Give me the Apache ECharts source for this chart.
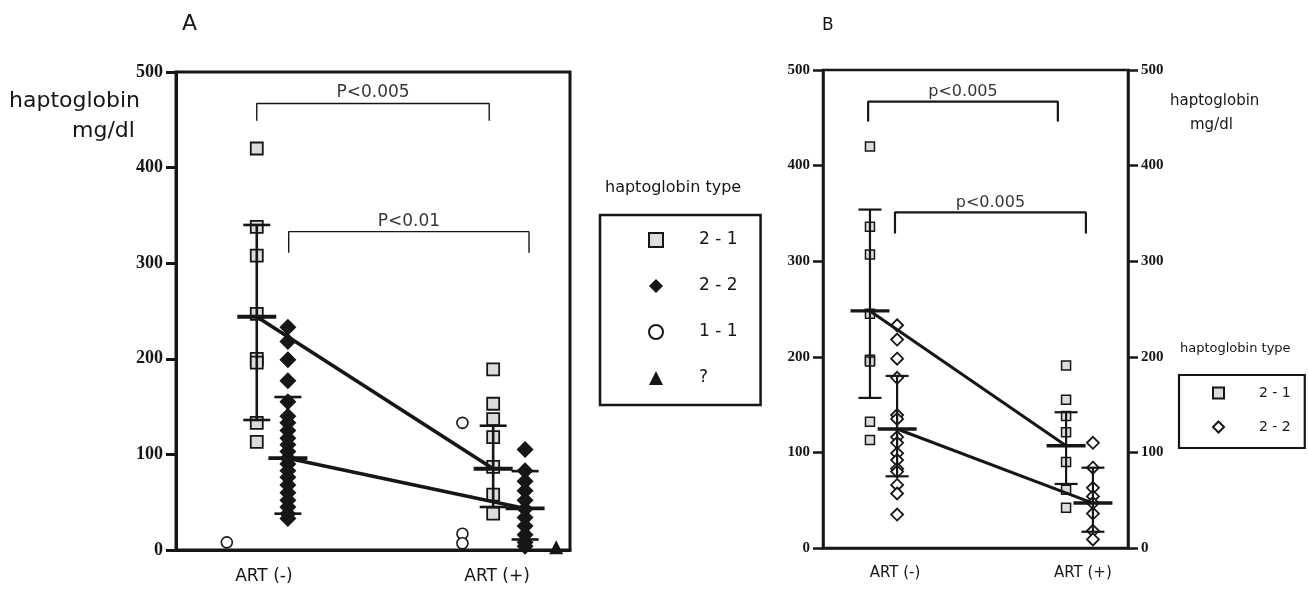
<!DOCTYPE html>
<html>
<head>
<meta charset="utf-8">
<script src="https://cdn.jsdelivr.net/npm/echarts@6/dist/echarts.min.js"></script>
<style>
  html, body { margin: 0; padding: 0; background: #fff; }
  #chart { width: 1308px; height: 594px; }
</style>
</head>
<body>
<div id="chart"></div>
<script>
// x positions (0-100 scale inside each panel)
const xCatA = [22.3, 81.5];
const xCatB = [23.6, 85.2];
const xLabels = ['ART (-)', 'ART (+)'];

// panel A values (mg/dl)
const a21Neg = [420, 338, 308, 247, 200, 196, 133, 113];
const a21Pos = [189, 153, 137, 118, 87, 58, 38];
const a22Neg = [233, 218, 199, 177, 155, 140, 133, 125, 117, 110, 103, 96, 90, 83, 76, 68, 60, 52, 45, 38, 33];
const a22Pos = [105, 83, 72, 62, 52, 43, 34, 25, 16, 8, 4];
const a11Neg = [8];
const a11Pos = [133, 17, 7];
const aUnknown = [3];
const aX = { sqNeg: 20.5, diaNeg: 28.4, cirNeg: 12.9, sqPos: 80.5, diaPos: 88.6, cirPos: 72.7, tri: 96.5 };
// [x, mean, low, high]
const aSummary = [[20.5, 244, 136, 340], [28.4, 96, 38, 160], [80.5, 85, 45, 130], [88.6, 43.5, 11, 82.5]];
const aMeanLines = [[[20.5, 244], [80.5, 85]], [[28.4, 96], [88.6, 43.5]]];
// [x1, x2, yTop, yLeg, text]
const aBrackets = [[20.5, 79.5, 467, 449, 'P<0.005'], [28.6, 89.6, 333, 311, 'P<0.01']];

// panel B values (mg/dl)
const b21Neg = [420, 336, 307, 245, 197, 195, 132, 113];
const b21Pos = [191, 155, 138, 121, 90, 61, 42];
const b22Neg = [233, 218, 198, 178, 139, 135, 116, 110, 99, 92, 83, 80, 66, 57, 35];
const b22Pos = [110, 84, 63, 54, 47, 36, 18, 9];
const bX = { sqNeg: 15.4, diaNeg: 24.3, sqPos: 79.7, diaPos: 88.5 };
const bSummary = [[15.4, 248, 157, 354], [24.3, 124.5, 75, 180], [79.7, 107, 67, 142], [88.5, 47, 17, 84]];
const bMeanLines = [[[15.4, 248], [79.7, 107]], [[24.3, 124.5], [88.5, 47]]];
const bBrackets = [[14.8, 77, 467, 446, 'p<0.005'], [23.6, 86.2, 351, 329, 'p<0.005']];

const ink = '#161616';
const grayFill = '#dcdcdc';
const sans = '"DejaVu Sans", "Open Sans", sans-serif';
const serif = '"Liberation Serif", "DejaVu Serif", serif';

function pts(x, arr) { return arr.map((v) => [x, v]); }

function errorSeries(data, xi, yi, capHalf, meanHalf, lw) {
  return {
    type: 'custom', xAxisIndex: xi, yAxisIndex: yi, z: 5, silent: true,
    data: data,
    renderItem(params, api) {
      const x = api.value(0);
      const m = api.coord([x, api.value(1)]);
      const lo = api.coord([x, api.value(2)]);
      const hi = api.coord([x, api.value(3)]);
      const st = { stroke: ink, lineWidth: lw };
      return {
        type: 'group',
        children: [
          { type: 'line', shape: { x1: lo[0], y1: lo[1], x2: hi[0], y2: hi[1] }, style: st },
          { type: 'line', shape: { x1: lo[0] - capHalf, y1: lo[1], x2: lo[0] + capHalf, y2: lo[1] }, style: st },
          { type: 'line', shape: { x1: hi[0] - capHalf, y1: hi[1], x2: hi[0] + capHalf, y2: hi[1] }, style: st },
          { type: 'line', shape: { x1: m[0] - meanHalf, y1: m[1], x2: m[0] + meanHalf, y2: m[1] }, style: { stroke: ink, lineWidth: lw + 1.2 } },
        ],
      };
    },
  };
}

function bracketSeries(list, xi, yi, lw, fontSize) {
  const out = [];
  list.forEach((b) => {
    out.push({
      type: 'line', xAxisIndex: xi, yAxisIndex: yi, silent: true, symbol: 'none',
      lineStyle: { color: ink, width: lw },
      data: [[b[0], b[3]], [b[0], b[2]], [b[1], b[2]], [b[1], b[3]]],
    });
    out.push({
      type: 'scatter', xAxisIndex: xi, yAxisIndex: yi, silent: true, symbolSize: 0,
      itemStyle: { color: '#000' },
      data: [[(b[0] + b[1]) / 2, b[2]]],
      label: {
        show: true, position: 'top', distance: 2, formatter: b[4],
        color: '#000', fontFamily: sans, fontSize: fontSize,
      },
    });
  });
  return out;
}

function meanLineSeries(lines, xi, yi, lw) {
  return lines.map((l) => ({
    type: 'line', xAxisIndex: xi, yAxisIndex: yi, silent: true, symbol: 'none', z: 4,
    lineStyle: { color: ink, width: lw }, data: l,
  }));
}

function xAxisCfg(gi, pos, lw, fontSize) {
  return {
    type: 'value', gridIndex: gi, min: 0, max: 100,
    axisLine: { show: true, lineStyle: { color: ink, width: lw } },
    axisTick: { show: false },
    splitLine: { show: false },
    axisLabel: {
      customValues: pos, margin: 18, color: ink, fontFamily: sans, fontSize: fontSize,
      formatter: (v) => xLabels[pos.indexOf(v)] || '',
    },
  };
}

function yAxisCfg(gi, position, lw, fontSize) {
  return {
    type: 'value', gridIndex: gi, position: position, min: 0, max: 500, interval: 100,
    axisLine: { show: true, lineStyle: { color: ink, width: lw } },
    axisTick: { show: true, inside: false, length: 10, lineStyle: { color: ink, width: lw } },
    splitLine: { show: false },
    axisLabel: { color: ink, fontFamily: serif, fontWeight: 'bold', fontSize: fontSize, margin: 13 },
  };
}

const chart = echarts.init(document.getElementById('chart'));

const series = [
  // panel A points
  { name: '2 - 1', type: 'scatter', xAxisIndex: 0, yAxisIndex: 0, symbol: 'rect', symbolSize: 12,
    itemStyle: { color: grayFill, borderColor: ink, borderWidth: 1.8, opacity: 1 },
    data: pts(aX.sqNeg, a21Neg).concat(pts(aX.sqPos, a21Pos)) },
  { name: '2 - 2', type: 'scatter', xAxisIndex: 0, yAxisIndex: 0, symbol: 'diamond', symbolSize: 17,
    itemStyle: { color: ink, opacity: 1 },
    data: pts(aX.diaNeg, a22Neg).concat(pts(aX.diaPos, a22Pos)) },
  { name: '1 - 1', type: 'scatter', xAxisIndex: 0, yAxisIndex: 0, symbol: 'circle', symbolSize: 11,
    itemStyle: { color: '#fff', borderColor: ink, borderWidth: 1.6, opacity: 1 },
    data: pts(aX.cirNeg, a11Neg).concat(pts(aX.cirPos, a11Pos)) },
  { name: '?', type: 'scatter', xAxisIndex: 0, yAxisIndex: 0, symbol: 'triangle', symbolSize: 14,
    itemStyle: { color: ink, opacity: 1 },
    data: pts(aX.tri, aUnknown) },
  // panel B points
  { name: 'B 2 - 1', type: 'scatter', xAxisIndex: 1, yAxisIndex: 1, symbol: 'rect', symbolSize: 9,
    itemStyle: { color: grayFill, borderColor: ink, borderWidth: 1.5, opacity: 1 },
    data: pts(bX.sqNeg, b21Neg).concat(pts(bX.sqPos, b21Pos)) },
  { name: 'B 2 - 2', type: 'scatter', xAxisIndex: 1, yAxisIndex: 1, symbol: 'diamond', symbolSize: 12,
    itemStyle: { color: '#fff', borderColor: ink, borderWidth: 1.8, opacity: 1 },
    data: pts(bX.diaNeg, b22Neg).concat(pts(bX.diaPos, b22Pos)) },
  errorSeries(aSummary, 0, 0, 13.5, 19.5, 2.6),
  errorSeries(bSummary, 1, 1, 11.5, 19.5, 2.2),
]
  .concat(meanLineSeries(aMeanLines, 0, 0, 3.6))
  .concat(meanLineSeries(bMeanLines, 1, 1, 3))
  .concat(bracketSeries(aBrackets, 0, 0, 1.4, 17))
  .concat(bracketSeries(bBrackets, 1, 1, 2.2, 16));

chart.setOption({
  animation: false,
  backgroundColor: '#fff',
  grid: [
    { left: 176, top: 72, width: 394, height: 478, show: true, borderColor: ink, borderWidth: 3 },
    { left: 823, top: 70, width: 305, height: 478, show: true, borderColor: ink, borderWidth: 2.5 },
  ],
  xAxis: [xAxisCfg(0, xCatA, 3, 17), xAxisCfg(1, xCatB, 2.5, 15)],
  yAxis: [yAxisCfg(0, 'left', 3, 18), yAxisCfg(1, 'left', 2.5, 15), yAxisCfg(1, 'right', 2.5, 15)],
  legend: [
    {
      orient: 'vertical', left: 600, top: 215, itemWidth: 14, itemHeight: 14, itemGap: 26,
      padding: [15, 23, 17, 48], borderColor: ink, borderWidth: 2.5,
      textStyle: { color: ink, fontFamily: sans, fontSize: 17, lineHeight: 20, padding: [0, 0, 0, 31] },
      data: [
        { name: '2 - 1', icon: 'rect' },
        { name: '2 - 2', icon: 'diamond' },
        { name: '1 - 1', icon: 'circle' },
        { name: '?', icon: 'triangle' },
      ],
      selectedMode: false,
    },
    {
      orient: 'vertical', left: 1179, top: 375, itemWidth: 11, itemHeight: 11, itemGap: 16,
      padding: [9, 14, 12, 33], borderColor: ink, borderWidth: 2.2,
      textStyle: { color: ink, fontFamily: sans, fontSize: 14, lineHeight: 18, padding: [0, 0, 0, 30] },
      formatter: (n) => n.replace('B ', ''),
      data: [
        { name: 'B 2 - 1', icon: 'rect' },
        { name: 'B 2 - 2', icon: 'diamond' },
      ],
      selectedMode: false,
    },
  ],
  graphic: [
    { type: 'text', left: 182, top: 13, style: { text: 'A', font: '22px ' + sans, fill: ink } },
    { type: 'text', left: 822, top: 17, style: { text: 'B', font: '17px ' + sans, fill: ink } },
    { type: 'text', left: 9, top: 90, style: { text: 'haptoglobin', font: '22px ' + sans, fill: ink } },
    { type: 'text', left: 72, top: 120, style: { text: 'mg/dl', font: '22px ' + sans, fill: ink } },
    { type: 'text', left: 605, top: 180, style: { text: 'haptoglobin type', font: '16px ' + sans, fill: ink } },
    { type: 'text', left: 1170, top: 94, style: { text: 'haptoglobin', font: '15px ' + sans, fill: ink } },
    { type: 'text', left: 1190, top: 118, style: { text: 'mg/dl', font: '15px ' + sans, fill: ink } },
    { type: 'text', left: 1180, top: 342, style: { text: 'haptoglobin type', font: '13px ' + sans, fill: ink } },
  ],
  series: series,
});

window.addEventListener('resize', () => chart.resize());
</script>
</body>
</html>
